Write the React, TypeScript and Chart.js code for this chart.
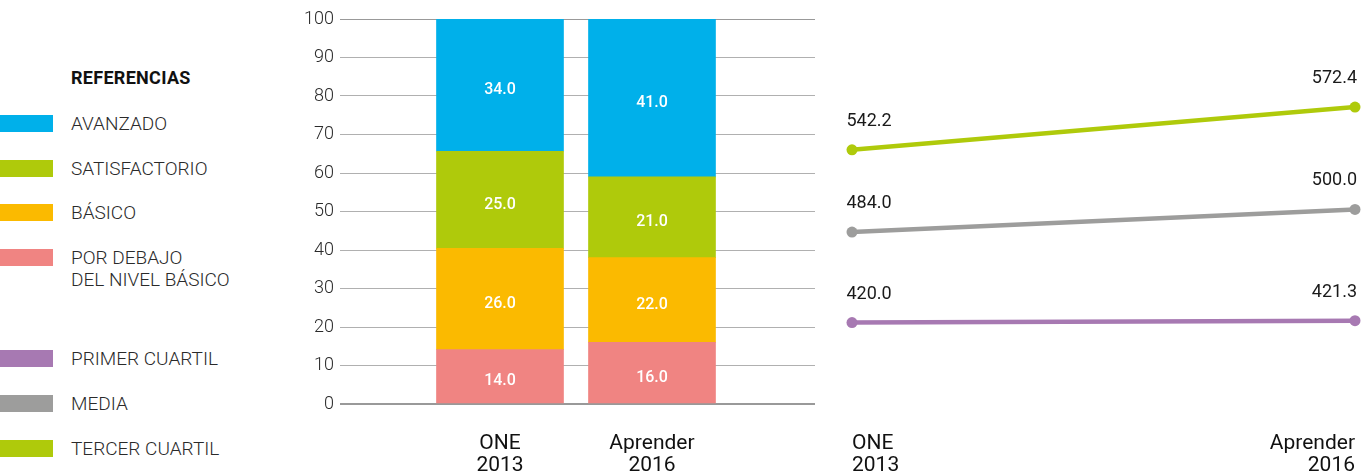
import React, { useEffect, useRef } from 'react';
import { Chart, registerables } from 'chart.js';

Chart.register(...registerables);

// ---- data ----
const categoryLabels: string[][] = [['ONE', '2013'], ['Aprender', '2016']];

const porDebajoValues = [14.0, 16.0];
const basicoValues = [26.0, 22.0];
const satisfactorioValues = [25.0, 21.0];
const avanzadoValues = [34.0, 41.0];

const primerCuartilValues = [420.0, 421.3];
const mediaValues = [484.0, 500.0];
const tercerCuartilValues = [542.2, 572.4];

const yTickStep = 10;

const levelNames = ['POR DEBAJO\nDEL NIVEL BÁSICO', 'BÁSICO', 'SATISFACTORIO', 'AVANZADO'];
const quartileNames = ['PRIMER CUARTIL', 'MEDIA', 'TERCER CUARTIL'];
const legendTitle = 'REFERENCIAS';

// ---- styles ----
const BLUE = '#00b0ea';
const GREEN = '#afca0b';
const ORANGE = '#fbba00';
const PINK = '#f08482';
const PURPLE = '#a779b2';
const GRAY = '#9d9d9c';

const barSeries = [
  { label: levelNames[0], values: porDebajoValues, color: PINK },
  { label: levelNames[1], values: basicoValues, color: ORANGE },
  { label: levelNames[2], values: satisfactorioValues, color: GREEN },
  { label: levelNames[3], values: avanzadoValues, color: BLUE },
];

const lineSeries = [
  { label: quartileNames[0], values: primerCuartilValues, color: PURPLE },
  { label: quartileNames[1], values: mediaValues, color: GRAY },
  { label: quartileNames[2], values: tercerCuartilValues, color: GREEN },
];

const FONT = 'Roboto';

const barLabelPlugin = {
  id: 'barLabels',
  afterDatasetsDraw(chart: any) {
    const ctx = chart.ctx;
    chart.data.datasets.forEach((ds: any, di: number) => {
      const meta = chart.getDatasetMeta(di);
      meta.data.forEach((el: any, i: number) => {
        const { x, y, base } = el.getProps(['x', 'y', 'base'], true);
        ctx.save();
        ctx.fillStyle = '#ffffff';
        ctx.font = `500 16px ${FONT}`;
        ctx.textAlign = 'center';
        ctx.textBaseline = 'middle';
        ctx.fillText(ds.data[i].v.toFixed(1), x, (y + base) / 2 + 5);
        ctx.restore();
      });
    });
  },
};

const lineLabelPlugin = {
  id: 'lineLabels',
  afterDatasetsDraw(chart: any) {
    const ctx = chart.ctx;
    chart.data.datasets.forEach((ds: any, di: number) => {
      const meta = chart.getDatasetMeta(di);
      const n = meta.data.length;
      meta.data.forEach((el: any, i: number) => {
        const { x, y } = el.getProps(['x', 'y'], true);
        ctx.save();
        ctx.fillStyle = '#1a1a1a';
        ctx.font = `400 18px ${FONT}`;
        ctx.textBaseline = 'middle';
        if (i === 0) {
          ctx.textAlign = 'left';
          ctx.fillText(Number(ds.data[i]).toFixed(1), x - 5.5, y - 28.5);
        } else if (i === n - 1) {
          ctx.textAlign = 'right';
          ctx.fillText(Number(ds.data[i]).toFixed(1), x + 2, y - 28.5);
        } else {
          ctx.textAlign = 'center';
          ctx.fillText(Number(ds.data[i]).toFixed(1), x, y - 28.5);
        }
        ctx.restore();
      });
    });
  },
};

function LegendItem({ color, text, center }: { color: string; text: string; center: number }) {
  return (
    <>
      <div
        style={{
          position: 'absolute',
          left: 0,
          top: center - 9,
          width: 53,
          height: 17,
          background: color,
        }}
      />
      <div
        style={{
          position: 'absolute',
          left: 71,
          top: center - 11,
          fontFamily: FONT,
          fontWeight: 300,
          fontSize: 19,
          lineHeight: '22px',
          color: '#2a2a2a',
          whiteSpace: 'pre',
        }}
      >
        {text}
      </div>
    </>
  );
}

export default function App() {
  const barRef = useRef<HTMLCanvasElement>(null);
  const lineRef = useRef<HTMLCanvasElement>(null);

  useEffect(() => {
    document.body.style.margin = '0';
    Chart.defaults.font.family = FONT;

    const totals = categoryLabels.map((_, i) =>
      barSeries.reduce((s, d) => s + d.values[i], 0)
    );

    const barChart = new Chart(barRef.current as HTMLCanvasElement, {
      type: 'bar',
      data: {
        datasets: barSeries.map((s) => ({
          label: s.label,
          data: s.values.map((v, i) => ({ x: i, y: (v / totals[i]) * 100, v })),
          backgroundColor: s.color,
          borderWidth: 0,
          barThickness: 127,
        })) as any,
      },
      options: {
        animation: false,
        responsive: false,
        layout: { padding: { top: 19, right: 15, left: 0, bottom: 0 } },
        plugins: { legend: { display: false }, tooltip: { enabled: false } },
        scales: {
          x: {
            type: 'linear',
            stacked: true,
            offset: false,
            min: -1.0526,
            max: 2.0724,
            grid: { display: false, offset: false },
            border: { display: false },
            afterBuildTicks: (s: any) => {
              s.ticks = categoryLabels.map((_, i) => ({ value: i }));
            },
            afterFit: (s: any) => {
              s.height = 72;
              s.paddingLeft = 0;
              s.paddingRight = 0;
            },
            ticks: {
              callback: (v: any) => categoryLabels[v],
              font: { size: 21, family: FONT, lineHeight: 1.05 },
              color: '#111111',
              padding: 21,
              maxRotation: 0,
              autoSkip: false,
            },
          } as any,
          y: {
            stacked: true,
            min: 0,
            max: 100,
            ticks: {
              stepSize: yTickStep,
              padding: 6,
              font: { size: 18, weight: '300', family: FONT },
              color: '#2a2a2a',
            },
            grid: {
              drawTicks: false,
              color: (c: any) => (c.tick && (c.tick.value === 0 || c.tick.value === 100) ? '#999999' : '#b0b0b0'),
              lineWidth: (c: any) => (c.tick && c.tick.value === 0 ? 2 : 1),
            },
            border: { display: false },
            afterFit: (s: any) => {
              s.width = 60;
            },
          } as any,
        },
      },
      plugins: [barLabelPlugin],
    });

    const lineChart = new Chart(lineRef.current as HTMLCanvasElement, {
      type: 'line',
      data: {
        labels: categoryLabels,
        datasets: lineSeries.map((s) => ({
          label: s.label,
          data: s.values,
          borderColor: s.color,
          backgroundColor: s.color,
          borderWidth: 4.5,
          pointRadius: 5.5,
          pointBorderWidth: 0,
          pointBackgroundColor: s.color,
          tension: 0,
          clip: false as any,
        })),
      },
      options: {
        animation: false,
        responsive: false,
        layout: { padding: { top: 19, left: 22, right: 8, bottom: 0 } },
        plugins: { legend: { display: false }, tooltip: { enabled: false } },
        scales: {
          x: {
            offset: false,
            grid: { display: false },
            border: { display: false },
            afterFit: (s: any) => {
              s.height = 72;
              s.paddingLeft = 0;
              s.paddingRight = 0;
            },
            ticks: {
              align: 'inner',
              font: { size: 21, family: FONT, lineHeight: 1.05 },
              color: '#111111',
              padding: 21,
              maxRotation: 0,
              autoSkip: false,
            },
          } as any,
          y: { display: false, min: 362.4, max: 634.7 },
        },
      },
      plugins: [lineLabelPlugin],
    });

    return () => {
      barChart.destroy();
      lineChart.destroy();
    };
  }, []);

  const levelCenters = [124, 169, 213, 258];
  const quartileCenters = [359, 404, 449];
  const levelLegend = [...barSeries].reverse();

  return (
    <div style={{ position: 'relative', width: 1363, height: 476, overflow: 'hidden', background: '#ffffff' }}>
      <div
        style={{
          position: 'absolute',
          left: 71,
          top: 67,
          fontFamily: FONT,
          fontWeight: 700,
          fontSize: 18,
          letterSpacing: '0.3px',
          lineHeight: '22px',
          color: '#111111',
        }}
      >
        {legendTitle}
      </div>
      {levelLegend.map((s, i) => (
        <LegendItem key={s.label} color={s.color} text={s.label} center={levelCenters[i]} />
      ))}
      {lineSeries.map((s, i) => (
        <LegendItem key={s.label} color={s.color} text={s.label} center={quartileCenters[i]} />
      ))}
      <canvas
        ref={barRef}
        width={550}
        height={476}
        style={{ position: 'absolute', left: 280, top: 0, width: 550, height: 476 }}
      />
      <canvas
        ref={lineRef}
        width={533}
        height={476}
        style={{ position: 'absolute', left: 830, top: 0, width: 533, height: 476 }}
      />
    </div>
  );
}
